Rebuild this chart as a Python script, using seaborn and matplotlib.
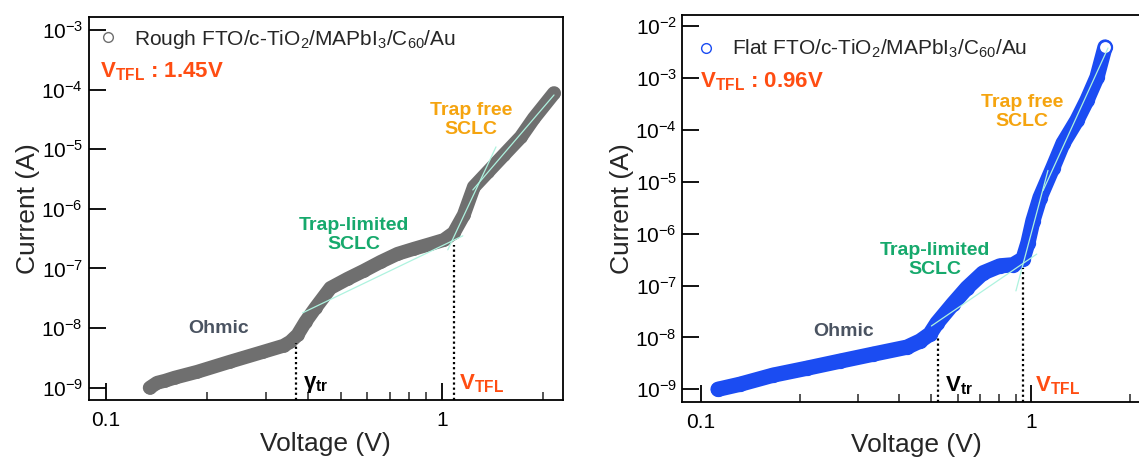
import numpy as np
import matplotlib
matplotlib.use("Agg")
import matplotlib.pyplot as plt
from matplotlib.lines import Line2D
from matplotlib.ticker import FixedLocator, NullLocator, NullFormatter
import seaborn as sns

# rough device (left panel)
left_voltage = [0.135, 0.142, 0.150, 0.160, 0.187, 0.234, 0.294, 0.338, 0.354, 0.372, 0.393, 0.421,
                0.466, 0.524, 0.585, 0.658, 0.739, 0.825, 0.927, 1.014, 1.086, 1.163, 1.246, 1.372,
                1.531, 1.720, 1.881, 2.159]
left_current = [1.0e-9, 1.21e-9, 1.31e-9, 1.47e-9, 1.85e-9, 2.73e-9, 4.0e-9, 5.06e-9, 5.9e-9, 7.7e-9,
                1.28e-8, 2.2e-8, 4.7e-8, 6.7e-8, 9.1e-8, 1.29e-7, 1.76e-7, 2.13e-7, 2.58e-7, 3.0e-7,
                3.96e-7, 7.9e-7, 2.33e-6, 4.15e-6, 8.0e-6, 1.6e-5, 3.3e-5, 8.7e-5]
left_fits = [([0.385, 1.155], [1.80e-8, 3.52e-7]),
             ([1.042, 1.45], [2.05e-7, 1.09e-5]),
             ([1.237, 2.159], [2.07e-6, 8.1e-5])]
left_vtr = (0.367, 5.7e-9)
left_vtfl = (1.086, 2.48e-7)
left_decades = [1e-9, 1e-8, 1e-7, 1e-6, 1e-5, 1e-4, 1e-3]

# flat device (right panel)
right_voltage = [0.1128, 0.1315, 0.1656, 0.210, 0.264, 0.333, 0.422, 0.462, 0.495, 0.520, 0.581,
                 0.641, 0.717, 0.807, 0.884, 0.948, 0.981, 1.016, 1.067, 1.168, 1.253, 1.381,
                 1.481, 1.588, 1.680]
right_current = [1.0e-9, 1.25e-9, 1.87e-9, 2.55e-9, 3.48e-9, 4.75e-9, 6.49e-9, 8.5e-9, 1.16e-8,
                 1.89e-8, 4.41e-8, 9.0e-8, 1.75e-7, 2.39e-7, 2.51e-7, 3.27e-7, 6.67e-7, 1.78e-6,
                 4.95e-6, 1.88e-5, 5.49e-5, 1.53e-4, 3.72e-4, 1.03e-3, 3.95e-3]
right_fits = [([0.50, 1.043], [1.66e-8, 4.03e-7]),
              ([0.902, 1.128], [7.87e-8, 1.65e-5]),
              ([1.090, 1.715], [6.76e-6, 3.77e-3])]
right_vtr = (0.524, 1.06e-8)
right_vtfl = (0.948, 2.19e-7)
right_decades = [1e-9, 1e-8, 1e-7, 1e-6, 1e-5, 1e-4, 1e-3, 1e-2]

x_ticks = [0.1, 1]
x_ticklabels = ["0.1", "1"]
x_minor = [0.2, 0.3, 0.4, 0.5, 0.6, 0.7, 0.8, 0.9, 2]

GRAY = "#6f6f6f"
BLUE = "#1b4cf2"
FIT = "#aef3df"
RED = "#ff4d12"
GREEN = "#16a96c"
ORANGE = "#f5a40f"
OHMIC = "#4a5361"

sns.set_theme(style="white")
plt.rcParams["font.family"] = ["Liberation Sans", "DejaVu Sans"]
plt.rcParams["mathtext.fontset"] = "custom"
plt.rcParams["mathtext.rm"] = "Liberation Sans"
plt.rcParams["mathtext.bf"] = "Liberation Sans:bold"
plt.rcParams["mathtext.default"] = "regular"

fig = plt.figure(figsize=(11.39, 4.58), dpi=100)
ax1 = fig.add_axes([0.0777, 0.1266, 0.4166, 0.8362])
ax2 = fig.add_axes([0.5992, 0.1223, 0.4100, 0.8439])


def style_axes(ax, xlim, ylim, decades):
    ax.set_xscale("log")
    ax.set_yscale("log")
    ax.set_xlim(*xlim)
    ax.set_ylim(*ylim)
    ax.xaxis.set_major_locator(FixedLocator(x_ticks))
    ax.set_xticklabels(x_ticklabels)
    ax.xaxis.set_minor_locator(FixedLocator(x_minor))
    ax.xaxis.set_minor_formatter(NullFormatter())
    ax.yaxis.set_major_locator(FixedLocator(decades))
    ax.set_yticklabels([r"$10^{%d}$" % round(np.log10(d)) for d in decades])
    ax.yaxis.set_minor_locator(NullLocator())
    ax.tick_params(which="major", direction="in", length=12, width=1.3, colors="black",
                   labelsize=15, left=True, bottom=True)
    ax.tick_params(axis="x", which="major", pad=8)
    ax.tick_params(axis="y", which="major", pad=4)
    ax.tick_params(which="minor", direction="in", length=6, width=1.1, bottom=True)
    for sp in ax.spines.values():
        sp.set_color("black")
        sp.set_linewidth(1.3)
    ax.set_xlabel("Voltage (V)", fontsize=19, labelpad=1)
    ax.set_ylabel("Current (A)", fontsize=19, labelpad=1)
    ax.grid(False)


def draw(ax, v, i, fits, vtr, vtfl, color, lw, ms):
    ymin = ax.get_ylim()[0]
    sns.lineplot(x=v, y=i, ax=ax, sort=False, estimator=None, color=color, linewidth=lw,
                 solid_capstyle="round", solid_joinstyle="round", marker="o", markersize=ms,
                 markerfacecolor="none", markeredgecolor=color, markeredgewidth=1.0, legend=False)
    for fv, fi in fits:
        ax.plot(fv, fi, color=FIT, linewidth=0.9, zorder=5)
    for xv, top in (vtr, vtfl):
        ax.vlines(xv, ymin, top, colors="black", linestyles=(0, (1, 1.3)), linewidth=1.6, zorder=6)


style_axes(ax1, (10 ** -1.052, 10 ** 0.361), (10 ** -9.206, 10 ** -2.785), left_decades)
style_axes(ax2, (10 ** -1.0555, 10 ** 0.36), (10 ** -9.245, 10 ** -1.796), right_decades)

draw(ax1, left_voltage, left_current, left_fits, left_vtr, left_vtfl, GRAY, 10, 8)
draw(ax2, right_voltage, right_current, right_fits, right_vtr, right_vtfl, BLUE, 11, 10)

# top end marker of the flat device
ax2.plot(right_voltage[-1:], right_current[-1:], linestyle="none", marker="o", markersize=9,
         markerfacecolor="white", markeredgecolor=BLUE, markeredgewidth=1.2, zorder=4)

# legends
for ax, color, label, anchor in [
    (ax1, GRAY, r"Rough FTO/c-TiO$_2$/MAPbI$_3$/C$_{60}$/Au", (0.0236, 0.9426)),
    (ax2, BLUE, r"Flat FTO/c-TiO$_2$/MAPbI$_3$/C$_{60}$/Au", (0.0325, 0.9133)),
]:
    h = Line2D([], [], linestyle="none", marker="o", markersize=7, markerfacecolor="none",
               markeredgecolor=color, markeredgewidth=1.0)
    ax.legend([h], [label], loc="center left", bbox_to_anchor=anchor, frameon=False,
              handlelength=0.8, handletextpad=0.85, borderpad=0, borderaxespad=0, fontsize=15)

# left annotations
ax1.text(0.024, 0.856, r"$\mathbf{V_{TFL}}$ : 1.45V", transform=ax1.transAxes, color=RED,
         fontsize=16, fontweight="bold", ha="left", va="center")
ax1.text(0.217, 9.7e-9, "Ohmic", color=OHMIC, fontsize=14, fontweight="bold", ha="center", va="center")
ax1.text(0.546, 3.66e-7, "Trap-limited\nSCLC", color=GREEN, fontsize=14, fontweight="bold",
         ha="center", va="center", linespacing=1.15)
ax1.text(1.22, 3.08e-5, "Trap free\nSCLC", color=ORANGE, fontsize=14, fontweight="bold",
         ha="center", va="center", linespacing=1.15)
ax1.text(0.387, 1.12e-9, r"γ$_{\mathbf{tr}}$", color="black", fontsize=16, fontweight="bold",
         ha="left", va="center")
ax1.text(1.124, 1.15e-9, r"$\mathbf{V_{TFL}}$", color=RED, fontsize=16, ha="left", va="center")

# right annotations
ax2.text(0.0375, 0.828, r"$\mathbf{V_{TFL}}$ : 0.96V", transform=ax2.transAxes, color=RED,
         fontsize=16, fontweight="bold", ha="left", va="center")
ax2.text(0.2717, 1.32e-8, "Ohmic", color=OHMIC, fontsize=14, fontweight="bold", ha="center", va="center")
ax2.text(0.513, 3.13e-7, "Trap-limited\nSCLC", color=GREEN, fontsize=14, fontweight="bold",
         ha="center", va="center", linespacing=1.15)
ax2.text(0.941, 2.18e-4, "Trap free\nSCLC", color=ORANGE, fontsize=14, fontweight="bold",
         ha="center", va="center", linespacing=1.15)
ax2.text(0.55, 1.15e-9, r"$\mathbf{V_{tr}}$", color="black", fontsize=16, ha="left", va="center")
ax2.text(1.03, 1.15e-9, r"$\mathbf{V_{TFL}}$", color=RED, fontsize=16, ha="left", va="center")

fig.savefig("out.png", dpi=100)
